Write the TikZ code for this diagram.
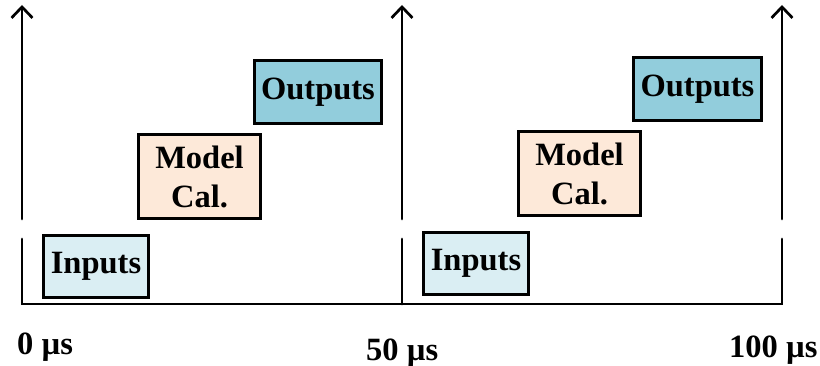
\documentclass[tikz,border=0pt]{standalone}
\usepackage{fontspec}
\setmainfont{Liberation Serif}
\usetikzlibrary{arrows.meta}
\definecolor{inputfill}{HTML}{DAEEF3}
\definecolor{modelfill}{HTML}{FDE9D9}
\definecolor{outputfill}{HTML}{92CDDC}

\begin{document}
\begin{tikzpicture}[x=1pt,y=-1pt,
  labelfont/.style={font=\fontsize{32.5}{39}\selectfont\bfseries},
  stage/.style={draw=black, line width=3pt, inner sep=0pt, align=center, labelfont},
  axisline/.style={line width=2.7pt, line cap=round, line join=miter},
  timeline/.style={axisline, -{Straight Barb[length=11pt,width=21pt]}},
  ticklabel/.style={inner sep=0pt, anchor=base west, labelfont}]

\useasboundingbox (0,0) rectangle (820,366);

% time axis anchor points
\coordinate (b0)   at (22,304);
\coordinate (b50)  at (402,304);
\coordinate (b100) at (782,304);
\coordinate (l0)   at (22,239);
\coordinate (l50)  at (402,239);
\coordinate (l100) at (782,239);
\coordinate (h0)   at (22,219);
\coordinate (h50)  at (402,219);
\coordinate (h100) at (782,219);
\coordinate (t0)   at (22,5);
\coordinate (t50)  at (402,5);
\coordinate (t100) at (782,5);

% baseline with the lower parts of the period markers
\draw[axisline] (l0) -- (b0) -- (b100) -- (l100);
\draw[axisline] (l50) -- (b50);

% upper parts of the period markers
\draw[timeline] (h0) -- (t0);
\draw[timeline] (h50) -- (t50);
\draw[timeline] (h100) -- (t100);

% first cycle
\node[stage, fill=inputfill,  minimum width=105pt, minimum height=62pt] (in1)  at (96,266.5)  {Inputs};
\node[stage, fill=modelfill,  minimum width=122pt, minimum height=84pt] (mc1)  at (199.5,176.5) {Model\\Cal.};
\node[stage, fill=outputfill, minimum width=127pt, minimum height=63pt] (out1) at (318,92)     {Outputs};

% second cycle
\node[stage, fill=inputfill,  minimum width=105pt, minimum height=62pt] (in2)  at (476,263.5)  {Inputs};
\node[stage, fill=modelfill,  minimum width=122pt, minimum height=84pt] (mc2)  at (579.5,173.5) {Model\\Cal.};
\node[stage, fill=outputfill, minimum width=128pt, minimum height=63pt] (out2) at (697.5,89)   {Outputs};

% time labels
\node[ticklabel] (lab0)   at (17,355)  {0 µs};
\node[ticklabel] (lab50)  at (366,360) {50 µs};
\node[ticklabel] (lab100) at (729,357) {100 µs};
\end{tikzpicture}
\end{document}
